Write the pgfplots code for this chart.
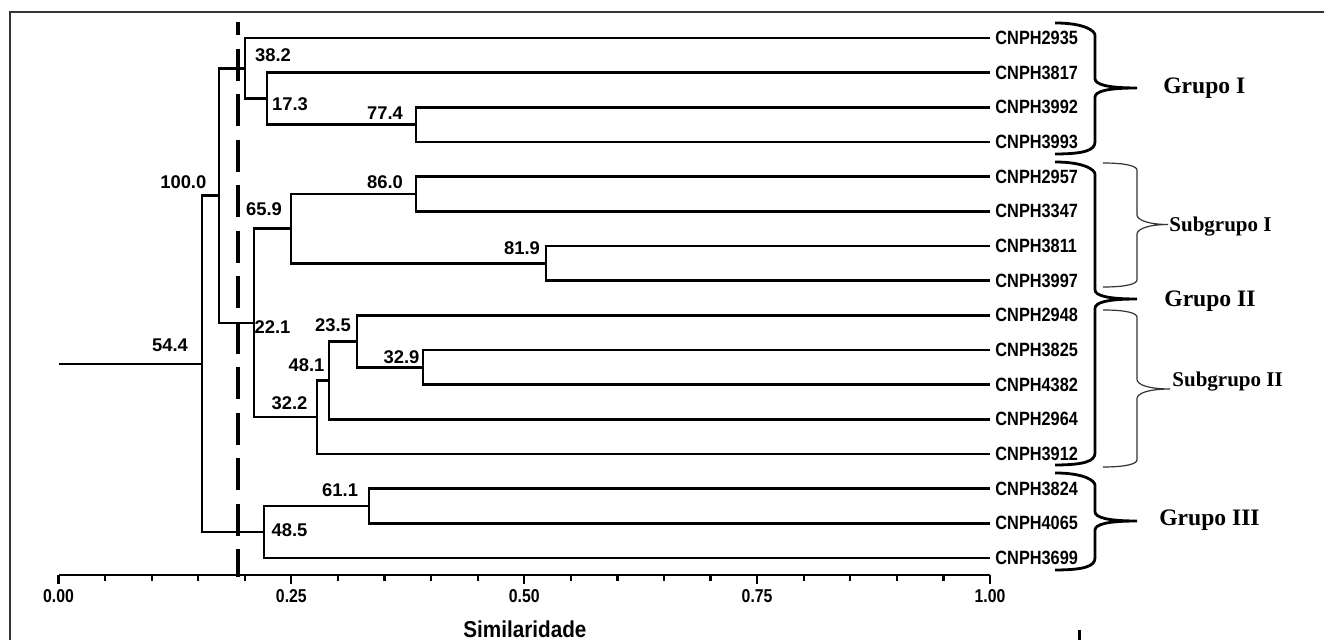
\documentclass[border=0pt]{standalone}
\usepackage{fontspec}
\setmainfont{Liberation Sans}
\newfontfamily\narrowsans{Liberation Sans}[FakeStretch=0.85, UprightFont={* Bold}, BoldFont={* Bold}]
\newfontfamily\ticksans{Liberation Sans}[FakeStretch=0.85, UprightFont={* Bold}, BoldFont={* Bold}]
\newfontfamily\titlesans{Liberation Sans}[FakeStretch=0.9, UprightFont={* Bold}, BoldFont={* Bold}]
\newfontfamily\grpserif{Liberation Serif}
\usepackage{pgfplots}
\pgfplotsset{compat=1.18}

\tikzset{
    tree/.style={black, line width=1.3pt, line join=miter, mark=none},
    boot/.style={font=\bfseries\fontsize{9.2}{10}\selectfont, inner sep=0pt, anchor=center},
    leaf/.style={font=\narrowsans\fontsize{9.6}{10}\selectfont, inner sep=0pt, anchor=west},
    bigbr/.style={black, line width=1.4pt},
    subbr/.style={black!80, line width=0.6pt},
    grp/.style={font=\grpserif\bfseries\fontsize{11.8}{13}\selectfont, inner sep=0pt, anchor=west},
    sgrp/.style={font=\grpserif\bfseries\fontsize{10.5}{12}\selectfont, inner sep=0pt, anchor=west},
}

\begin{document}
\begin{tikzpicture}
% page = 1324 x 640 px at 2 px per pt; data (0,0) sits at the origin
\path[use as bounding box] (-29.25pt,-41pt) rectangle (632.75pt,279pt);
\begin{axis}[
    at={(0,0)}, anchor=origin,
    scale only axis,
    width=465.75pt, height=284.09pt,
    xmin=0, xmax=1, ymin=-0.49, ymax=15.9,
    axis x line*=bottom, % only the similarity axis
    axis y line=none,
    x axis line style={line width=1.4pt},
    xtick={0,0.25,0.5,0.75,1},
    xticklabels={0.00,0.25,0.50,0.75,1.00},
    minor x tick num=4,
    tick align=outside,
    major tick length=4.5pt,
    minor tick length=3pt,
    every tick/.style={black, line width=1.1pt},
    xticklabel style={font=\ticksans\fontsize{9.3}{10}\selectfont, anchor=center, yshift=-6pt},
    clip=false,
]
% clusters: each node joins its two children
\addplot[tree] coordinates {(1,13) (0.3838,13) (0.3838,12) (1,12)};
\addplot[tree] coordinates {(1,14) (0.2238,14) (0.2238,12.5) (0.3838,12.5)};
\addplot[tree] coordinates {(1,15) (0.2002,15) (0.2002,13.25) (0.2238,13.25)};
\addplot[tree] coordinates {(1,11) (0.3838,11) (0.3838,10) (1,10)};
\addplot[tree] coordinates {(1,9) (0.5233,9) (0.5233,8) (1,8)};
\addplot[tree] coordinates {(0.3838,10.5) (0.2496,10.5) (0.2496,8.5) (0.5233,8.5)};
\addplot[tree] coordinates {(1,6) (0.3913,6) (0.3913,5) (1,5)};
\addplot[tree] coordinates {(1,7) (0.3204,7) (0.3204,5.5) (0.3913,5.5)};
\addplot[tree] coordinates {(0.3204,6.25) (0.2903,6.25) (0.2903,4) (1,4)};
\addplot[tree] coordinates {(0.2903,5.125) (0.2775,5.125) (0.2775,3) (1,3)};
\addplot[tree] coordinates {(0.2496,9.5) (0.2099,9.5) (0.2099,4.0625) (0.2775,4.0625)};
\addplot[tree] coordinates {(0.2002,14.125) (0.1723,14.125) (0.1723,6.7813) (0.2099,6.7813)};
\addplot[tree] coordinates {(1,2) (0.3334,2) (0.3334,1) (1,1)};
\addplot[tree] coordinates {(0.3334,1.5) (0.2206,1.5) (0.2206,0) (1,0)};
\addplot[tree] coordinates {(0.1723,10.4531) (0.154,10.4531) (0.154,0.75) (0.2206,0.75)};
\addplot[tree] coordinates {(0,5.6016) (0.154,5.6016)};
% cut-off line
\addplot[black, line width=1.6pt, dash pattern=on 16pt off 6.75pt, dash phase=9.5pt, mark=none]
    coordinates {(0.1927,15.46) (0.1927,-0.55)};

% bootstrap values
\node[boot] at (axis cs:0.1340,10.84) {100.0};
\node[boot] at (axis cs:0.1197,6.15) {54.4};
\node[boot] at (axis cs:0.2303,14.51) {38.2};
\node[boot] at (axis cs:0.2485,13.10) {17.3};
\node[boot] at (axis cs:0.3505,12.84) {77.4};
\node[boot] at (axis cs:0.3505,10.84) {86.0};
\node[boot] at (axis cs:0.2206,10.05) {65.9};
\node[boot] at (axis cs:0.4976,8.94) {81.9};
\node[boot] at (axis cs:0.2297,6.66) {22.1};
\node[boot] at (axis cs:0.2947,6.71) {23.5};
\node[boot] at (axis cs:0.3682,5.80) {32.9};
\node[boot] at (axis cs:0.2662,5.57) {48.1};
\node[boot] at (axis cs:0.2480,4.47) {32.2};
\node[boot] at (axis cs:0.3023,1.96) {61.1};
\node[boot] at (axis cs:0.2480,0.81) {48.5};

% accessions
\node[leaf] at (axis cs:1.0054,15) {CNPH2935};
\node[leaf] at (axis cs:1.0054,14) {CNPH3817};
\node[leaf] at (axis cs:1.0054,13) {CNPH3992};
\node[leaf] at (axis cs:1.0054,12) {CNPH3993};
\node[leaf] at (axis cs:1.0054,11) {CNPH2957};
\node[leaf] at (axis cs:1.0054,10) {CNPH3347};
\node[leaf] at (axis cs:1.0054,9) {CNPH3811};
\node[leaf] at (axis cs:1.0054,8) {CNPH3997};
\node[leaf] at (axis cs:1.0054,7) {CNPH2948};
\node[leaf] at (axis cs:1.0054,6) {CNPH3825};
\node[leaf] at (axis cs:1.0054,5) {CNPH4382};
\node[leaf] at (axis cs:1.0054,4) {CNPH2964};
\node[leaf] at (axis cs:1.0054,3) {CNPH3912};
\node[leaf] at (axis cs:1.0054,2) {CNPH3824};
\node[leaf] at (axis cs:1.0054,1) {CNPH4065};
\node[leaf] at (axis cs:1.0054,0) {CNPH3699};

% group braces (absolute control points, x 15pt = 0.032, y 4pt = 0.23)
\draw[bigbr] (axis cs:1.0698,15.433) .. controls (axis cs:1.1020,15.433) and (axis cs:1.1127,15.20) .. (axis cs:1.1127,15.08)
    -- (axis cs:1.1127,13.83) .. controls (axis cs:1.1127,13.66) and (axis cs:1.1256,13.558) .. (axis cs:1.1578,13.558)
    .. controls (axis cs:1.1256,13.558) and (axis cs:1.1127,13.46) .. (axis cs:1.1127,13.29)
    -- (axis cs:1.1127,12.0) .. controls (axis cs:1.1127,11.77) and (axis cs:1.1020,11.654) .. (axis cs:1.0698,11.654);
\draw[bigbr] (axis cs:1.0698,11.423) .. controls (axis cs:1.1020,11.423) and (axis cs:1.1127,11.19) .. (axis cs:1.1127,11.07)
    -- (axis cs:1.1127,7.74) .. controls (axis cs:1.1127,7.57) and (axis cs:1.1256,7.471) .. (axis cs:1.1578,7.471)
    .. controls (axis cs:1.1256,7.471) and (axis cs:1.1127,7.37) .. (axis cs:1.1127,7.20)
    -- (axis cs:1.1127,3.03) .. controls (axis cs:1.1127,2.80) and (axis cs:1.1020,2.683) .. (axis cs:1.0698,2.683);
\draw[bigbr] (axis cs:1.0698,2.452) .. controls (axis cs:1.1020,2.452) and (axis cs:1.1127,2.22) .. (axis cs:1.1127,2.10)
    -- (axis cs:1.1127,1.34) .. controls (axis cs:1.1127,1.17) and (axis cs:1.1256,1.067) .. (axis cs:1.1578,1.067)
    .. controls (axis cs:1.1256,1.067) and (axis cs:1.1127,0.97) .. (axis cs:1.1127,0.80)
    -- (axis cs:1.1127,0.0) .. controls (axis cs:1.1127,-0.23) and (axis cs:1.1020,-0.346) .. (axis cs:1.0698,-0.346);
% subgroup braces
\draw[subbr] (axis cs:1.1213,11.394) .. controls (axis cs:1.1470,11.394) and (axis cs:1.1578,11.30) .. (axis cs:1.1578,11.19)
    -- (axis cs:1.1578,9.90) .. controls (axis cs:1.1578,9.75) and (axis cs:1.1700,9.62) .. (axis cs:1.1911,9.62)
    .. controls (axis cs:1.1700,9.62) and (axis cs:1.1578,9.49) .. (axis cs:1.1578,9.34)
    -- (axis cs:1.1578,8.02) .. controls (axis cs:1.1578,7.91) and (axis cs:1.1470,7.817) .. (axis cs:1.1213,7.817);
\draw[subbr] (axis cs:1.1213,7.154) .. controls (axis cs:1.1470,7.154) and (axis cs:1.1578,7.06) .. (axis cs:1.1578,6.95)
    -- (axis cs:1.1578,5.155) .. controls (axis cs:1.1578,5.00) and (axis cs:1.1700,4.875) .. (axis cs:1.1933,4.875)
    .. controls (axis cs:1.1700,4.875) and (axis cs:1.1578,4.75) .. (axis cs:1.1578,4.595)
    -- (axis cs:1.1578,2.83) .. controls (axis cs:1.1578,2.72) and (axis cs:1.1470,2.625) .. (axis cs:1.1213,2.625);

\node[grp] at (axis cs:1.1857,13.56) {Grupo I};
\node[grp] at (axis cs:1.1868,7.40) {Grupo II};
\node[grp] at (axis cs:1.1814,1.10) {Grupo III};
\node[sgrp] at (axis cs:1.1922,9.55) {Subgrupo I};
\node[sgrp] at (axis cs:1.1954,5.08) {Subgrupo II};

% axis title
\node[font=\titlesans\fontsize{11.5}{13}\selectfont, anchor=base, inner sep=0pt]
    at (axis cs:0.5007,-2.28) {Similaridade};

% frame of the figure and stray mark
\draw[black!80, line width=1pt] (axis cs:-0.0521,-2.5) -- (axis cs:-0.0521,15.75) -- (axis cs:1.37,15.75);
\draw[black, line width=1.5pt] (axis cs:1.0966,-2.077) -- (axis cs:1.0966,-2.5);
\end{axis}
\end{tikzpicture}
\end{document}
